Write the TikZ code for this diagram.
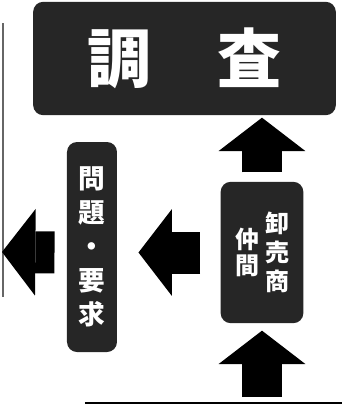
\documentclass[tikz,border=0pt]{standalone}
\usepackage{fontspec}
\newfontfamily\jp{Noto Sans CJK JP}
\usetikzlibrary{arrows.meta}

\tikzset{every picture/.style={line width=0.75pt}}
\tikzset{
  box/.style={fill=black!85, rounded corners=7.5pt, text=white, inner sep=0pt, align=center},
  uparrow/.style={line width=30pt, -{Triangle[width=65pt,length=25pt,line width=0pt]}},
  sidearrow/.style={line width=31.5pt, -{Triangle[width=65pt,length=25pt,line width=0pt]}}
}

\begin{document}
\begin{tikzpicture}[x=0.75pt,y=0.75pt,yscale=-1,xscale=1]
\useasboundingbox (0,0) rectangle (342,405);

% edge lines of the sheet
\draw  [black!60, line width=1.2]  (3,23) -- (3,297) ;
\draw  [line width=1.5]  (85,403) -- (342,403) ;

% boxes
\node [box, minimum width=227pt, minimum height=85pt, font=\jp\bfseries\fontsize{48}{48}\selectfont] (chosa) at (184.5,58.5) {調\hspace{49.5pt}査};
\node [box, minimum width=62pt, minimum height=106pt] (oroshi) at (262,252.5) {};
\node [box, minimum width=37.5pt, minimum height=157.5pt, font=\jp\bfseries\fontsize{20}{25.5}\selectfont] (yokyu) at (92,247) {問\\題\\・\\要\\求};

\node [text=white, inner sep=0pt, align=center, font=\jp\bfseries\fontsize{18}{21.75}\selectfont] (oroshiR) at ([xshift=12pt]oroshi.center) {卸\\売\\商};
\node [text=white, inner sep=0pt, align=center, font=\jp\bfseries\fontsize{18}{19}\selectfont] (oroshiL) at ([xshift=-10.5pt]oroshi.center) {仲\\間};

% block arrows
\coordinate (src) at (262,397);
\coordinate (out) at (2,252);
\draw  [uparrow, shorten >=5.25pt]  (src) -- (oroshi.south) ;
\draw  [uparrow, shorten <=6.75pt, shorten >=1.5pt]  (oroshi.north) -- (oroshi.north |- chosa.south) ;
\draw  [sidearrow, shorten <=15pt, shorten >=15.75pt]  (oroshi.west) -- (oroshi.west -| yokyu.east) ;
\draw  [sidearrow, shorten <=9pt]  (yokyu.west |- oroshi.west) -- (out) ;

\end{tikzpicture}
\end{document}
